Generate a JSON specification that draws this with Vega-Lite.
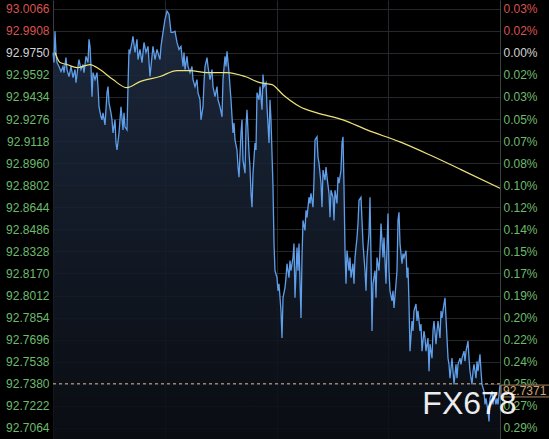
{
  "$schema": "https://vega.github.io/schema/vega-lite/v6.json",
  "width": 447,
  "height": 439,
  "autosize": "none",
  "padding": {"left": 53, "right": 49, "top": 0, "bottom": 0},
  "background": "#000000",
  "config": {"view": {"stroke": null}, "font": "Liberation Sans"},
  "datasets": {
    "price": [
      {"t":0,"p":92.9750},{"t":1,"p":92.9680},{"t":2,"p":92.9904},{"t":3,"p":92.9752},{"t":4,"p":92.9680},{"t":6,"p":92.9652},{"t":8,"p":92.9616},{"t":10,"p":92.9652},{"t":11,"p":92.9608},{"t":13,"p":92.9716},{"t":14,"p":92.9630},{"t":16,"p":92.9580},{"t":18,"p":92.9652},{"t":20,"p":92.9572},{"t":22,"p":92.9630},{"t":23,"p":92.9536},{"t":25,"p":92.9652},{"t":26,"p":92.9702},{"t":28,"p":92.9630},{"t":30,"p":92.9666},{"t":31,"p":92.9608},{"t":33,"p":92.9724},{"t":35,"p":92.9680},{"t":36,"p":92.9846},{"t":37,"p":92.9796},{"t":38,"p":92.9652},{"t":39,"p":92.9436},{"t":40,"p":92.9608},{"t":42,"p":92.9558},{"t":44,"p":92.9608},{"t":45,"p":92.9508},{"t":46,"p":92.9364},{"t":48,"p":92.9292},{"t":49,"p":92.9270},{"t":50,"p":92.9320},{"t":52,"p":92.9234},{"t":54,"p":92.9464},{"t":55,"p":92.9508},{"t":56,"p":92.9392},{"t":58,"p":92.9320},{"t":59,"p":92.9270},{"t":60,"p":92.9176},{"t":62,"p":92.9270},{"t":63,"p":92.9104},{"t":64,"p":92.9054},{"t":66,"p":92.9176},{"t":67,"p":92.9270},{"t":68,"p":92.9364},{"t":70,"p":92.9198},{"t":71,"p":92.9320},{"t":72,"p":92.9220},{"t":74,"p":92.9198},{"t":75,"p":92.9508},{"t":76,"p":92.9774},{"t":77,"p":92.9752},{"t":79,"p":92.9824},{"t":80,"p":92.9868},{"t":82,"p":92.9752},{"t":84,"p":92.9846},{"t":85,"p":92.9702},{"t":87,"p":92.9774},{"t":89,"p":92.9680},{"t":91,"p":92.9824},{"t":93,"p":92.9752},{"t":95,"p":92.9796},{"t":97,"p":92.9580},{"t":99,"p":92.9724},{"t":100,"p":92.9796},{"t":102,"p":92.9702},{"t":104,"p":92.9774},{"t":106,"p":92.9724},{"t":107,"p":92.9702},{"t":108,"p":92.9796},{"t":110,"p":92.9896},{"t":112,"p":92.9990},{"t":114,"p":93.0048},{"t":116,"p":93.0026},{"t":118,"p":92.9896},{"t":120,"p":92.9896},{"t":122,"p":92.9904},{"t":124,"p":92.9824},{"t":126,"p":92.9774},{"t":128,"p":92.9796},{"t":130,"p":92.9652},{"t":131,"p":92.9752},{"t":132,"p":92.9630},{"t":134,"p":92.9724},{"t":135,"p":92.9652},{"t":137,"p":92.9608},{"t":139,"p":92.9652},{"t":140,"p":92.9558},{"t":142,"p":92.9508},{"t":144,"p":92.9558},{"t":145,"p":92.9464},{"t":147,"p":92.9414},{"t":148,"p":92.9270},{"t":150,"p":92.9364},{"t":151,"p":92.9536},{"t":152,"p":92.9652},{"t":154,"p":92.9716},{"t":155,"p":92.9652},{"t":157,"p":92.9558},{"t":159,"p":92.9630},{"t":160,"p":92.9508},{"t":162,"p":92.9436},{"t":164,"p":92.9508},{"t":165,"p":92.9414},{"t":167,"p":92.9364},{"t":169,"p":92.9292},{"t":170,"p":92.9558},{"t":172,"p":92.9724},{"t":173,"p":92.9652},{"t":174,"p":92.9760},{"t":176,"p":92.9608},{"t":177,"p":92.9508},{"t":178,"p":92.9414},{"t":180,"p":92.9176},{"t":181,"p":92.9248},{"t":182,"p":92.9126},{"t":184,"p":92.9054},{"t":185,"p":92.8932},{"t":186,"p":92.8860},{"t":188,"p":92.9176},{"t":189,"p":92.9270},{"t":190,"p":92.8982},{"t":192,"p":92.8888},{"t":193,"p":92.9220},{"t":194,"p":92.9342},{"t":196,"p":92.9032},{"t":197,"p":92.8932},{"t":198,"p":92.8744},{"t":199,"p":92.8644},{"t":200,"p":92.8888},{"t":202,"p":92.9104},{"t":203,"p":92.9054},{"t":204,"p":92.9464},{"t":206,"p":92.9414},{"t":207,"p":92.9508},{"t":209,"p":92.9342},{"t":210,"p":92.9594},{"t":211,"p":92.9508},{"t":213,"p":92.9536},{"t":214,"p":92.9364},{"t":216,"p":92.9104},{"t":217,"p":92.9414},{"t":218,"p":92.9270},{"t":220,"p":92.8788},{"t":221,"p":92.8384},{"t":222,"p":92.8190},{"t":224,"p":92.8140},{"t":225,"p":92.8046},{"t":226,"p":92.8096},{"t":228,"p":92.7902},{"t":229,"p":92.7708},{"t":230,"p":92.7996},{"t":232,"p":92.8068},{"t":233,"p":92.8140},{"t":234,"p":92.8240},{"t":236,"p":92.8140},{"t":237,"p":92.8262},{"t":238,"p":92.8190},{"t":240,"p":92.8284},{"t":241,"p":92.8384},{"t":242,"p":92.7996},{"t":244,"p":92.8356},{"t":245,"p":92.8190},{"t":246,"p":92.8384},{"t":248,"p":92.7852},{"t":249,"p":92.8284},{"t":250,"p":92.8550},{"t":252,"p":92.8478},{"t":253,"p":92.8622},{"t":254,"p":92.8572},{"t":256,"p":92.8716},{"t":257,"p":92.8672},{"t":258,"p":92.8744},{"t":260,"p":92.8644},{"t":261,"p":92.8838},{"t":262,"p":92.9126},{"t":264,"p":92.9148},{"t":265,"p":92.9004},{"t":266,"p":92.8960},{"t":268,"p":92.8816},{"t":269,"p":92.8644},{"t":270,"p":92.8910},{"t":272,"p":92.8838},{"t":273,"p":92.8932},{"t":274,"p":92.8860},{"t":276,"p":92.8744},{"t":277,"p":92.8572},{"t":278,"p":92.8766},{"t":280,"p":92.8716},{"t":281,"p":92.8550},{"t":282,"p":92.8766},{"t":284,"p":92.8672},{"t":285,"p":92.8860},{"t":286,"p":92.8816},{"t":288,"p":92.8910},{"t":289,"p":92.9104},{"t":290,"p":92.9148},{"t":291,"p":92.8788},{"t":292,"p":92.8334},{"t":293,"p":92.8096},{"t":294,"p":92.8334},{"t":296,"p":92.8190},{"t":297,"p":92.8284},{"t":298,"p":92.8140},{"t":300,"p":92.8240},{"t":301,"p":92.8096},{"t":302,"p":92.8284},{"t":304,"p":92.8428},{"t":305,"p":92.8528},{"t":306,"p":92.8694},{"t":308,"p":92.8716},{"t":309,"p":92.8550},{"t":310,"p":92.8384},{"t":312,"p":92.8190},{"t":313,"p":92.8046},{"t":314,"p":92.8284},{"t":316,"p":92.8456},{"t":317,"p":92.8716},{"t":318,"p":92.8284},{"t":319,"p":92.7758},{"t":320,"p":92.8096},{"t":322,"p":92.8190},{"t":323,"p":92.7996},{"t":324,"p":92.8284},{"t":326,"p":92.8190},{"t":327,"p":92.8334},{"t":328,"p":92.8528},{"t":330,"p":92.8284},{"t":331,"p":92.8428},{"t":332,"p":92.8262},{"t":333,"p":92.8096},{"t":335,"p":92.8600},{"t":336,"p":92.8190},{"t":337,"p":92.8046},{"t":339,"p":92.7974},{"t":340,"p":92.8046},{"t":341,"p":92.7924},{"t":343,"p":92.8096},{"t":344,"p":92.8190},{"t":345,"p":92.8550},{"t":346,"p":92.8608},{"t":347,"p":92.8384},{"t":349,"p":92.8240},{"t":350,"p":92.8312},{"t":351,"p":92.8284},{"t":353,"p":92.8334},{"t":354,"p":92.8140},{"t":355,"p":92.8212},{"t":356,"p":92.7952},{"t":357,"p":92.7614},{"t":359,"p":92.7830},{"t":360,"p":92.7758},{"t":361,"p":92.7902},{"t":363,"p":92.7952},{"t":364,"p":92.7830},{"t":365,"p":92.7902},{"t":367,"p":92.7758},{"t":368,"p":92.7808},{"t":369,"p":92.7614},{"t":371,"p":92.7758},{"t":372,"p":92.7708},{"t":373,"p":92.7614},{"t":375,"p":92.7708},{"t":376,"p":92.7470},{"t":377,"p":92.7664},{"t":379,"p":92.7564},{"t":380,"p":92.7758},{"t":381,"p":92.7830},{"t":383,"p":92.7664},{"t":384,"p":92.7758},{"t":385,"p":92.7830},{"t":387,"p":92.7708},{"t":388,"p":92.7902},{"t":389,"p":92.7852},{"t":391,"p":92.7952},{"t":392,"p":92.7996},{"t":393,"p":92.7852},{"t":395,"p":92.7564},{"t":396,"p":92.7520},{"t":397,"p":92.7420},{"t":399,"p":92.7564},{"t":400,"p":92.7470},{"t":401,"p":92.7376},{"t":403,"p":92.7520},{"t":404,"p":92.7420},{"t":405,"p":92.7520},{"t":407,"p":92.7564},{"t":408,"p":92.7520},{"t":409,"p":92.7564},{"t":411,"p":92.7614},{"t":412,"p":92.7542},{"t":413,"p":92.7614},{"t":415,"p":92.7686},{"t":416,"p":92.7564},{"t":417,"p":92.7470},{"t":419,"p":92.7376},{"t":420,"p":92.7470},{"t":421,"p":92.7520},{"t":423,"p":92.7420},{"t":424,"p":92.7542},{"t":425,"p":92.7470},{"t":427,"p":92.7592},{"t":428,"p":92.7470},{"t":429,"p":92.7376},{"t":431,"p":92.7326},{"t":432,"p":92.7232},{"t":433,"p":92.7276},{"t":435,"p":92.7182},{"t":436,"p":92.7110},{"t":437,"p":92.7276},{"t":439,"p":92.7326},{"t":440,"p":92.7232},{"t":441,"p":92.7304},{"t":443,"p":92.7232},{"t":444,"p":92.7276},{"t":445,"p":92.7232},{"t":447,"p":92.7371}
    ],
    "ma": [
      {"t":2,"m":92.9752},{"t":7,"m":92.9680},{"t":14,"m":92.9666},{"t":24,"m":92.9644},{"t":37,"m":92.9666},{"t":47,"m":92.9630},{"t":60,"m":92.9558},{"t":74,"m":92.9500},{"t":87,"m":92.9544},{"t":107,"m":92.9580},{"t":124,"m":92.9623},{"t":137,"m":92.9623},{"t":154,"m":92.9608},{"t":174,"m":92.9608},{"t":192,"m":92.9580},{"t":207,"m":92.9536},{"t":219,"m":92.9522},{"t":230,"m":92.9450},{"t":247,"m":92.9364},{"t":264,"m":92.9320},{"t":290,"m":92.9270},{"t":314,"m":92.9198},{"t":347,"m":92.9112},{"t":377,"m":92.9018},{"t":409,"m":92.8910},{"t":447,"m":92.8780}
    ],
    "ref": [
      {"level": 92.7380, "last": 92.7371, "label": "92.7371", "brand": "FX678"}
    ]
  },
  "resolve": {"scale": {"y": "shared"}, "axis": {"y": "independent"}},
  "layer": [
    {
      "data": {"name": "price"},
      "mark": {
        "type": "area",
        "opacity": 0.88,
        "color": {
          "gradient": "linear", "x1": 0, "y1": 0, "x2": 0, "y2": 1,
          "stops": [
            {"offset": 0, "color": "#1f2d44"},
            {"offset": 1, "color": "#0b0e14"}
          ]
        }
      },
      "encoding": {
        "x": {
          "field": "t", "type": "quantitative",
          "scale": {"domain": [0, 447], "nice": false, "zero": false},
          "axis": {
            "values": [111.75, 223.5, 335.25],
            "labels": false, "ticks": false, "domain": false, "title": null,
            "grid": true, "gridColor": "#24282d", "gridWidth": 1
          }
        },
        "y": {
          "field": "p", "type": "quantitative",
          "scale": {"domain": [92.6985, 93.0128], "nice": false, "zero": false},
          "axis": {
            "orient": "left",
            "title": null,
            "values": [93.0066, 92.9908, 92.975, 92.9592, 92.9434, 92.9276, 92.9118, 92.896, 92.8802, 92.8644, 92.8486, 92.8328, 92.817, 92.8012, 92.7854, 92.7696, 92.7538, 92.738, 92.7222, 92.7064],
            "format": ".4f",
            "labelFont": "Liberation Sans",
            "labelFontSize": 12,
            "labelPadding": 4,
            "labelOverlap": false,
            "labelFlush": false,
            "labelColor": {"expr": "datum.value > 92.976 ? '#d9534f' : (datum.value > 92.974 ? '#d2d2d2' : '#6dbb6d')"},
            "ticks": false,
            "domain": true,
            "domainColor": "#3a3e44",
            "grid": true,
            "gridColor": "#24282d",
            "gridWidth": 1
          }
        },
        "y2": {"datum": 92.6985}
      }
    },
    {
      "data": {"name": "price"},
      "mark": {"type": "line", "color": "#5f9ee8", "strokeWidth": 1.3},
      "encoding": {
        "x": {"field": "t", "type": "quantitative"},
        "y": {"field": "p", "type": "quantitative", "scale": {"domain": [92.6985, 93.0128], "nice": false, "zero": false}, "axis": null}
      }
    },
    {
      "data": {"name": "ma"},
      "mark": {"type": "line", "color": "#ece27a", "strokeWidth": 1.2, "interpolate": "monotone"},
      "encoding": {
        "x": {"field": "t", "type": "quantitative"},
        "y": {
          "field": "m", "type": "quantitative",
          "scale": {"domain": [92.6985, 93.0128], "nice": false, "zero": false},
          "axis": {
            "orient": "right",
            "title": null,
            "values": [93.0066, 92.9908, 92.975, 92.9592, 92.9434, 92.9276, 92.9118, 92.896, 92.8802, 92.8644, 92.8486, 92.8328, 92.817, 92.8012, 92.7854, 92.7696, 92.7538, 92.738, 92.7222, 92.7064],
            "labelExpr": "format(abs(datum.value - 92.975) / 92.975 * 100, '.2f') + '%'",
            "labelFont": "Liberation Sans",
            "labelFontSize": 12,
            "labelPadding": 3,
            "labelOverlap": false,
            "labelFlush": false,
            "labelColor": {"expr": "datum.value > 92.976 ? '#d9534f' : (datum.value > 92.974 ? '#d2d2d2' : '#6dbb6d')"},
            "ticks": false,
            "domain": true,
            "domainColor": "#3a463d",
            "grid": false
          }
        }
      }
    },
    {
      "data": {"name": "ref"},
      "mark": {"type": "rule", "color": "#e6bd9c", "strokeWidth": 1, "strokeDash": [3, 3]},
      "encoding": {
        "y": {"field": "level", "type": "quantitative", "scale": {"domain": [92.6985, 93.0128], "nice": false, "zero": false}, "axis": null}
      }
    },
    {
      "data": {"name": "ref"},
      "mark": {"type": "rect", "fill": "#060606", "stroke": "#a9865e", "strokeWidth": 1},
      "encoding": {
        "x": {"datum": 448, "type": "quantitative"},
        "x2": {"datum": 520},
        "y": {"field": "last", "type": "quantitative", "scale": {"domain": [92.6985, 93.0128], "nice": false, "zero": false}, "axis": null},
        "y2": {"datum": 92.7286}
      }
    },
    {
      "data": {"name": "ref"},
      "mark": {"type": "text", "align": "left", "baseline": "middle", "dy": 6, "fontSize": 12, "font": "Liberation Sans", "color": "#cda57a"},
      "encoding": {
        "x": {"datum": 450, "type": "quantitative"},
        "y": {"field": "last", "type": "quantitative", "scale": {"domain": [92.6985, 93.0128], "nice": false, "zero": false}, "axis": null},
        "text": {"field": "label"}
      }
    },
    {
      "data": {"name": "ref"},
      "mark": {"type": "text", "align": "center", "baseline": "alphabetic", "fontSize": 32, "font": "Liberation Sans", "color": "#ffffff", "opacity": 0.92},
      "encoding": {
        "x": {"datum": 416.5, "type": "quantitative"},
        "y": {"datum": 92.7164, "type": "quantitative", "scale": {"domain": [92.6985, 93.0128], "nice": false, "zero": false}, "axis": null},
        "text": {"field": "brand"}
      }
    }
  ]
}
